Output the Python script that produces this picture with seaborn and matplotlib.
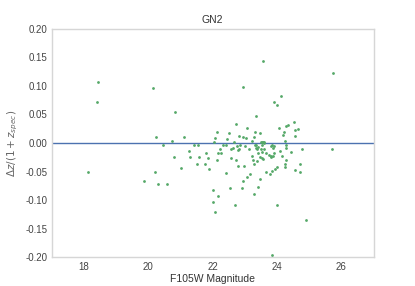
import numpy as np
import pandas as pd
import matplotlib
matplotlib.use("Agg")
import matplotlib.pyplot as plt
import seaborn as sns

# F105W magnitude vs. redshift error
mag = [
    18.44, 18.41, 20.14, 20.84, 20.24, 20.74, 21.12, 23.55, 22.94, 25.74,
    23.34, 23.92, 24.01, 24.13, 22.71, 24.52, 24.35, 24.29, 24.06, 23.08,
    24.57, 24.66, 24.21, 24.20, 24.56, 22.12, 22.52, 23.31, 23.48, 22.82,
    22.94, 23.05, 23.28, 23.23, 22.07, 22.46, 22.04, 22.66, 23.52, 23.60,
    24.25, 23.51, 23.56, 23.61,
    18.13, 19.87, 20.22, 20.29, 20.59, 21.02, 20.80, 20.45, 21.26, 21.29,
    21.42, 21.53, 21.52, 21.58, 21.80, 21.77, 21.86, 21.89, 22.01, 22.00,
    22.17, 22.07, 22.16, 22.23, 22.26, 22.14, 22.33, 22.41, 22.42, 22.54,
    22.58, 22.56, 22.62, 22.69, 22.74, 22.78, 22.77, 22.80, 22.83, 22.85,
    22.90, 22.94, 22.96, 23.02, 23.07, 23.13, 23.15, 23.23, 23.25, 23.27,
    23.31, 23.34, 23.35, 23.38, 23.42, 23.38, 23.29, 23.42, 23.48, 23.41,
    23.47, 23.52, 23.52, 23.51, 23.52, 23.57, 23.61, 23.67, 23.65, 23.76,
    23.80, 23.82, 23.78, 23.84, 23.83, 23.86, 23.82, 23.88, 23.92, 23.95,
    24.00, 24.01, 24.10, 24.16, 24.24, 24.26, 24.29, 24.27, 24.29, 24.43,
    24.57, 24.71, 24.72, 24.79, 24.91, 25.72, 23.85, 23.90,
]
dz = [
    0.107, 0.071, 0.096, 0.054, 0.011, 0.003, 0.011, 0.144, 0.098, 0.122,
    0.047, 0.072, 0.067, 0.083, 0.034, 0.037, 0.032, 0.029, 0.026, 0.026,
    0.022, 0.024, 0.020, 0.014, 0.012, 0.020, 0.017, 0.020, 0.017, 0.012,
    0.010, 0.008, 0.010, 0.004, 0.008, 0.007, 0.001, 0.001, 0.002, 0.001,
    0.004, 0.001, 0.001, 0.000,
    -0.051, -0.067, -0.051, -0.071, -0.071, -0.044, -0.024, -0.004, -0.014, -0.025,
    -0.003, -0.004, -0.037, -0.025, -0.017, -0.036, -0.027, -0.046, -0.082, -0.103,
    -0.093, -0.121, -0.017, -0.011, -0.018, -0.029, -0.003, -0.004, -0.053, -0.079,
    -0.027, -0.011, -0.009, -0.109, -0.029, -0.040, -0.006, -0.013, -0.010, -0.003,
    -0.078, -0.066, -0.041, -0.006, -0.060, -0.011, -0.054, -0.023, -0.030, -0.090,
    -0.004, -0.003, -0.009, -0.010, -0.007, -0.031, -0.037, -0.077, -0.063, -0.017,
    -0.025, -0.027, -0.003, -0.011, -0.015, -0.028, -0.011, -0.018, -0.050, -0.021,
    -0.023, -0.025, -0.054, -0.195, -0.049, -0.022, -0.006, -0.008, -0.017, -0.046,
    -0.042, -0.108, -0.014, -0.022, -0.037, -0.042, -0.029, -0.008, -0.004, -0.016,
    -0.047, -0.037, -0.050, -0.010, -0.135, -0.011, -0.003, -0.006,
]

df = pd.DataFrame({"mag": mag, "dz": dz})

sns.set_theme(style="white", rc={"axes.edgecolor": "#d6d6d6"})
plt.rcParams["font.family"] = ["Liberation Sans", "DejaVu Sans"]

fig, ax = plt.subplots(figsize=(4.15, 2.86), dpi=100)
sns.scatterplot(data=df, x="mag", y="dz", ax=ax, color="#55A868",
                s=4, linewidth=0, zorder=3)
ax.axhline(0, color="#4C72B0", lw=1.0, zorder=2)

ax.set_xlim(17, 27)
ax.set_ylim(-0.2, 0.2)
ax.set_xticks([18, 20, 22, 24, 26])
ax.set_yticks(np.arange(-0.2, 0.201, 0.05))
ax.set_yticklabels(["%.2f" % v if v < -1e-9 else "%.2f" % abs(v)
                    for v in np.arange(-0.2, 0.201, 0.05)])
ax.tick_params(labelsize=7, colors="#444444", length=0, pad=3)
ax.set_title("GN2", fontsize=7.5, color="#333333", pad=4)
ax.set_xlabel("F105W Magnitude", fontsize=7.5, color="#333333", labelpad=2)
ax.set_ylabel(r"$\Delta z/(1+z_{spec})$", fontsize=7.5, color="#666666", labelpad=4)
for s in ax.spines.values():
    s.set_linewidth(1.0)

fig.subplots_adjust(left=0.125, right=0.90, top=0.90, bottom=0.10)
fig.savefig("out.png", dpi=100)
